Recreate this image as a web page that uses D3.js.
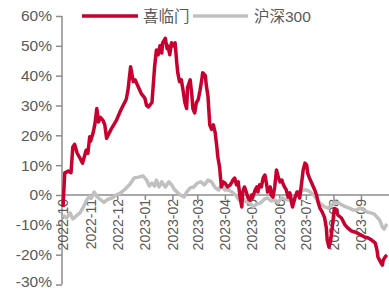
<!DOCTYPE html>
<html>
<head>
<meta charset="utf-8">
<script src="https://cdn.jsdelivr.net/npm/d3@7"></script>
<style>
  html, body { margin: 0; padding: 0; background: #fff; }
  svg { display: block; }
  text { font-family: "Liberation Sans", Arial, "Noto Sans CJK SC", sans-serif; fill: #595959; }
</style>
</head>
<body>
<svg id="chart" width="389" height="290"></svg>
<script>
// ---- data ----
const seriesNames = ["喜临门", "沪深300"];
const yTicks = [-30, -20, -10, 0, 10, 20, 30, 40, 50, 60];
const xTickLabels = ["2022-10","2022-11","2022-12","2023-01","2023-02","2023-03","2023-04","2023-05","2023-06","2023-07","2023-08","2023-09"];

const xlmDates = ["2022-10-01","2022-10-03","2022-10-07","2022-10-10","2022-10-12","2022-10-14","2022-10-17","2022-10-20","2022-10-23","2022-10-27","2022-10-29","2022-10-31",
"2022-11-01","2022-11-04","2022-11-06","2022-11-08","2022-11-10","2022-11-12","2022-11-15","2022-11-17","2022-11-19","2022-11-24","2022-11-30",
"2022-12-05","2022-12-11","2022-12-13","2022-12-16","2022-12-19","2022-12-21","2022-12-28",
"2023-01-01","2023-01-03","2023-01-05","2023-01-09","2023-01-12","2023-01-14","2023-01-16","2023-01-18","2023-01-20","2023-01-21","2023-01-24","2023-01-26","2023-01-27","2023-01-29","2023-01-31",
"2023-02-02","2023-02-04","2023-02-06","2023-02-07","2023-02-09","2023-02-11","2023-02-13","2023-02-15","2023-02-17","2023-02-18","2023-02-21","2023-02-23","2023-02-24","2023-02-26","2023-02-28",
"2023-03-02","2023-03-04","2023-03-06","2023-03-07","2023-03-10","2023-03-11","2023-03-13","2023-03-15","2023-03-17","2023-03-19","2023-03-21","2023-03-23","2023-03-24","2023-03-26","2023-03-28","2023-03-29","2023-03-30",
"2023-04-01","2023-04-04","2023-04-07","2023-04-09","2023-04-10","2023-04-12","2023-04-14","2023-04-16","2023-04-18","2023-04-20","2023-04-21","2023-04-23","2023-04-25","2023-04-27","2023-04-29",
"2023-05-01","2023-05-02","2023-05-05","2023-05-07","2023-05-08","2023-05-10","2023-05-12","2023-05-14","2023-05-16","2023-05-18","2023-05-19","2023-05-22","2023-05-23","2023-05-25","2023-05-27","2023-05-29","2023-05-31",
"2023-06-02","2023-06-04","2023-06-05","2023-06-07","2023-06-09","2023-06-11","2023-06-13","2023-06-15","2023-06-16","2023-06-19","2023-06-21","2023-06-22","2023-06-24","2023-06-26","2023-06-28","2023-06-30",
"2023-07-02","2023-07-03","2023-07-05","2023-07-07","2023-07-09","2023-07-11","2023-07-13","2023-07-15","2023-07-17","2023-07-19","2023-07-22","2023-07-24","2023-07-25","2023-07-27","2023-07-29","2023-07-31",
"2023-08-02","2023-08-04","2023-08-06","2023-08-10","2023-08-14","2023-08-17","2023-08-21","2023-08-25","2023-08-28",
"2023-09-01","2023-09-05","2023-09-09","2023-09-13","2023-09-17","2023-09-19","2023-09-20","2023-09-23","2023-09-25","2023-09-26","2023-09-28","2023-09-30"];
const xlmValues = [-4.0,7.4,8.0,7.5,16.0,17.0,14.0,12.4,10.7,15.0,14.0,19.5,
18.0,21.0,24.0,29.0,24.5,26.0,25.0,23.5,19.0,22.0,25.0,
28.5,32.0,35.0,43.0,38.0,38.6,34.0,
32.5,30.0,29.5,31.0,43.0,48.6,47.0,50.0,47.6,51.0,52.5,49.0,50.0,47.0,51.0,
50.0,51.0,44.0,41.0,38.0,38.6,35.0,31.0,29.0,36.0,38.6,33.0,29.0,27.5,31.0,
32.0,35.0,38.6,41.0,40.0,37.0,33.0,23.5,22.0,23.5,21.0,16.0,12.8,9.4,2.7,3.5,4.4,
4.0,2.7,3.4,4.4,5.0,5.7,3.4,4.4,-0.7,-4.0,1.0,2.7,1.0,-1.0,-1.7,
0.0,-1.0,1.7,2.7,1.0,3.4,2.7,5.7,6.7,3.4,1.0,2.7,0.0,-0.7,2.7,8.4,6.0,
4.4,5.0,4.0,2.7,1.7,-0.7,0.7,-2.7,-4.0,-0.7,1.0,1.0,-1.0,3.4,8.4,10.7,
10.0,7.4,5.7,4.4,3.0,1.7,0.0,-2.7,-4.5,-5.5,-7.5,-11.0,-15.0,-17.5,-15.0,-10.0,
-4.5,-5.0,-6.7,-7.7,-10.0,-11.0,-12.0,-12.4,-12.8,
-13.4,-14.1,-14.4,-15.1,-16.1,-18.5,-20.8,-22.5,-23.5,-21.8,-20.8,-20.1];

const hsDates = ["2022-10-01","2022-10-05","2022-10-09","2022-10-12","2022-10-16","2022-10-20","2022-10-24","2022-10-28","2022-10-31",
"2022-11-02","2022-11-05","2022-11-08","2022-11-12","2022-11-16","2022-11-20","2022-11-25","2022-11-30",
"2022-12-05","2022-12-10","2022-12-15","2022-12-20","2022-12-25","2022-12-30",
"2023-01-03","2023-01-06","2023-01-09","2023-01-12","2023-01-14","2023-01-17","2023-01-20","2023-01-24","2023-01-28","2023-01-31",
"2023-02-03","2023-02-06","2023-02-10","2023-02-14","2023-02-17","2023-02-21","2023-02-25",
"2023-03-01","2023-03-05","2023-03-09","2023-03-13","2023-03-17","2023-03-21","2023-03-25","2023-03-28",
"2023-04-01","2023-04-05","2023-04-09","2023-04-13","2023-04-17","2023-04-21","2023-04-25","2023-04-29",
"2023-05-03","2023-05-07","2023-05-11","2023-05-15","2023-05-19","2023-05-23","2023-05-27","2023-05-31",
"2023-06-04","2023-06-08","2023-06-12","2023-06-16","2023-06-20","2023-06-24","2023-06-28",
"2023-07-02","2023-07-06","2023-07-10","2023-07-14","2023-07-18","2023-07-22","2023-07-26","2023-07-30",
"2023-08-03","2023-08-07","2023-08-11","2023-08-15","2023-08-19","2023-08-23","2023-08-27","2023-08-31",
"2023-09-04","2023-09-08","2023-09-12","2023-09-16","2023-09-19","2023-09-22","2023-09-25","2023-09-27","2023-09-30"];
const hsValues = [-6.7,-7.7,-6.0,-8.0,-7.0,-6.0,-4.0,-1.5,-0.5,
-1.0,1.0,-0.5,-1.5,-2.5,-1.5,-1.0,0.0,
0.7,2.0,3.5,5.7,6.0,6.4,
5.0,3.0,4.0,3.0,5.0,2.7,4.4,2.7,4.4,3.5,
2.0,1.0,0.0,-0.7,1.0,2.4,2.7,
4.0,4.4,3.4,5.0,4.4,2.5,1.7,3.4,
1.7,1.7,1.0,0.0,-1.7,-1.0,-2.4,-2.7,
-4.0,-3.0,-2.7,-1.5,-1.0,-2.0,-1.7,-2.4,
-1.0,-1.5,-1.7,-1.0,0.0,0.7,1.7,
1.7,1.0,0.0,-1.7,-3.0,-4.0,-4.4,-3.4,
-2.4,-2.7,-3.4,-4.0,-4.4,-5.0,-5.0,-4.4,
-5.0,-5.7,-6.0,-6.4,-7.4,-8.4,-10.7,-11.4,-9.7];

// ---- chart ----
const svg = d3.select("#chart");
const parse = d3.timeParse("%Y-%m-%d");
const x = d3.scaleTime()
  .domain([parse("2022-10-01"), parse("2023-09-30")])
  .range([63, 386.8]);
const y = d3.scaleLinear().domain([-30, 60]).range([284.5, 16]);

const axisColor = "#8c8c8c";

// y axis
const yAxis = svg.append("g")
  .attr("transform", "translate(62,0)")
  .call(d3.axisLeft(y).tickValues(yTicks).tickSize(6).tickPadding(4)
    .tickFormat(d => d + "%"));
yAxis.select(".domain").attr("stroke", axisColor).attr("stroke-width", 1.5)
  .attr("d", `M0,${y(60)}V${y(-30)}`);
yAxis.selectAll(".tick line").attr("stroke", axisColor).attr("stroke-width", 1.5);
yAxis.selectAll(".tick text").style("font-size", "15.5px").attr("fill", "#595959");
// keep the bottom label inside the canvas
yAxis.selectAll(".tick text").filter(d => d === -30).attr("dy", "0.1em");

// x axis at zero
const monthTicks = xTickLabels.map(s => parse(s + "-01"));
const xAxis = svg.append("g")
  .attr("transform", `translate(0,${y(0)})`)
  .call(d3.axisBottom(x).tickValues(monthTicks).tickSize(5).tickPadding(4)
    .tickFormat((d, i) => xTickLabels[i]));
xAxis.select(".domain").attr("stroke", axisColor).attr("stroke-width", 1.5)
  .attr("d", `M62,0H389`);
xAxis.selectAll(".tick line").attr("stroke", axisColor).attr("stroke-width", 1.5);
xAxis.selectAll(".tick text")
  .style("font-size", "14px")
  .attr("fill", "#595959")
  .attr("text-anchor", "end")
  .attr("transform", "rotate(-90)")
  .attr("x", -4).attr("y", 0).attr("dy", "0.35em");

// lines
const line = d3.line().x(d => x(d[0])).y(d => y(d[1]));
const hsData = hsDates.map((d, i) => [parse(d), hsValues[i]]);
const xlmData = xlmDates.map((d, i) => [parse(d), xlmValues[i]]);

svg.append("path").datum(hsData)
  .attr("fill", "none").attr("stroke", "#C0C0C0").attr("stroke-width", 3.5)
  .attr("stroke-linejoin", "round").attr("d", line);
svg.append("path").datum(xlmData)
  .attr("fill", "none").attr("stroke", "#C8002F").attr("stroke-width", 3.5)
  .attr("stroke-linejoin", "round").attr("d", line);

// legend
const legend = svg.append("g");
const legendItems = [
  {name: seriesNames[0], color: "#C8002F", x1: 82, x2: 138, tx: 143},
  {name: seriesNames[1], color: "#C0C0C0", x1: 193, x2: 248, tx: 254}
];
legendItems.forEach(it => {
  legend.append("line").attr("x1", it.x1).attr("x2", it.x2).attr("y1", 16).attr("y2", 16)
    .attr("stroke", it.color).attr("stroke-width", 3.5);
  legend.append("text").attr("x", it.tx).attr("y", 16).attr("dy", "0.36em")
    .style("font-size", "15.5px").attr("fill", "#595959").text(it.name);
});
</script>
</body>
</html>
